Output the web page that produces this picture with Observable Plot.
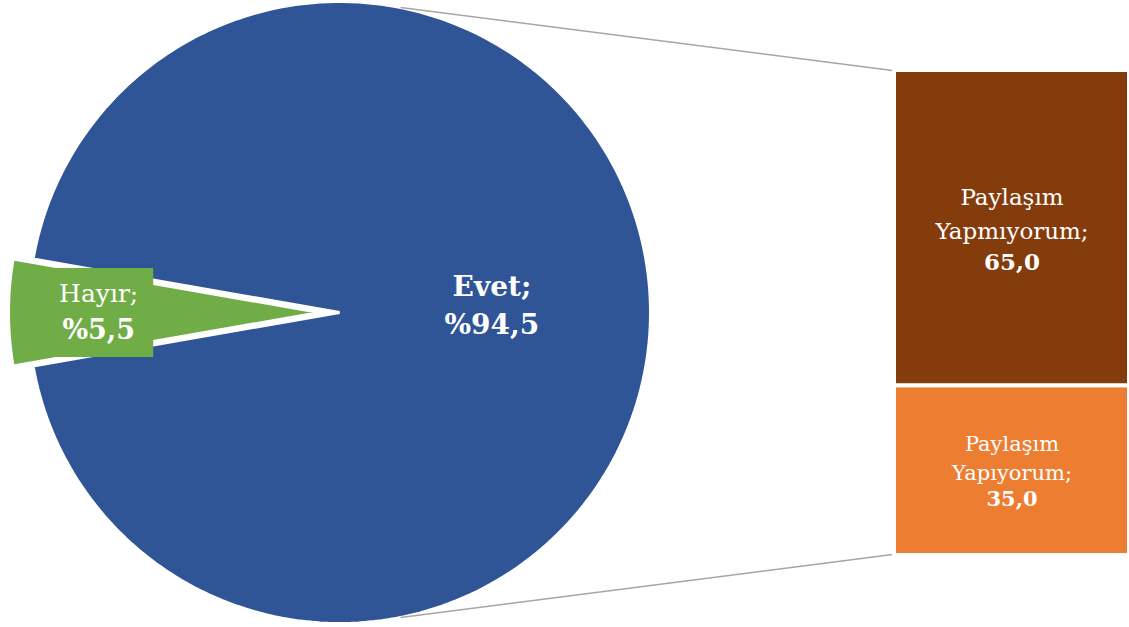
<!DOCTYPE html>
<html>
<head>
<meta charset="utf-8">
<script src="https://cdn.jsdelivr.net/npm/d3@7"></script>
<script src="https://cdn.jsdelivr.net/npm/@observablehq/plot@0.6"></script>
<style>
  html, body { margin: 0; padding: 0; background: #fff; }
  #wrap { position: relative; width: 1129px; height: 627px; overflow: hidden; }
  #wrap svg { position: absolute; left: 0; top: 0; }
</style>
</head>
<body>
<div id="wrap"></div>
<script>
// ---- data ----
const pieLabels = ["Evet", "Hayır"];
const pieValues = [94.5, 5.5];
const pieColors = ["#2F5597", "#70AD47"];
const barLabels = ["Paylaşım\nYapıyorum;", "Paylaşım\nYapmıyorum;"];
const barValues = [35.0, 65.0];
const barColors = ["#ED7D31", "#843C0C"];

// ---- layout ----
const W = 1129, H = 627;
const cx = 339, cy = 312, R = 311;
const explode = 20;
const barLeft = 896, barTop = 72, barBottom = 553;
const fmt = v => v.toFixed(1).replace(".", ",");
const font = "DejaVu Serif";

// pie angles (clockwise from 12 o'clock), small slice centred at 9 o'clock
const total = d3.sum(pieValues);
const g = 2 * Math.PI * pieValues[1] / total;
const arcs = d3.pie().sort(null)
  .startAngle(-Math.PI / 2 + g / 2)
  .endAngle(-Math.PI / 2 + g / 2 + 2 * Math.PI)(pieValues);

const px = (a, r, ox = 0) => cx + ox + r * Math.sin(a);
const py = (a, r, oy = 0) => cy + oy - r * Math.cos(a);

const sliceMarks = [];
const sliceInfo = arcs.map((a, i) => {
  const mid = (a.startAngle + a.endAngle) / 2;
  const off = i === 1 ? explode : 0;
  const ox = off * Math.sin(mid), oy = -off * Math.cos(mid);
  const pts = [{x: cx + ox, y: cy + oy}];
  const n = 240;
  for (let k = 0; k <= n; k++) {
    const t = a.startAngle + (a.endAngle - a.startAngle) * k / n;
    pts.push({x: px(t, R, ox), y: py(t, R, oy)});
  }
  sliceMarks.push(Plot.line(pts, {x: "x", y: "y", curve: "linear-closed",
    fill: pieColors[i], stroke: "white", strokeWidth: 3, strokeLinejoin: "miter"}));
  return {mid, ox, oy};
});

// label anchors
const evetPos = {x: px(sliceInfo[0].mid, 0.49 * R), y: py(sliceInfo[0].mid, 0.49 * R)};
const hayirPos = {x: px(sliceInfo[1].mid, 0.71 * R, sliceInfo[1].ox), y: py(sliceInfo[1].mid, 0.71 * R, sliceInfo[1].oy)};

// connectors: pie edge to bar corners
const cAng = Math.asin(61 / R);
const connectors = [
  {x1: cx + R * Math.sin(cAng), y1: cy - R * Math.cos(cAng), x2: barLeft - 4, y2: barTop - 2},
  {x1: cx + R * Math.sin(cAng), y1: cy + R * Math.cos(cAng), x2: barLeft - 4, y2: barBottom + 1}
];

const pie = Plot.plot({
  width: W, height: H,
  marginTop: 0, marginRight: 0, marginBottom: 0, marginLeft: 0,
  x: {domain: [0, W], range: [0, W], axis: null},
  y: {domain: [0, H], range: [0, H], axis: null},
  style: {background: "transparent", fontFamily: font},
  marks: [
    ...sliceMarks,
    Plot.link(connectors, {x1: "x1", y1: "y1", x2: "x2", y2: "y2", stroke: "#A6A6A6", strokeWidth: 1.6}),
    Plot.rect([hayirPos], {x1: d => d.x - 55, x2: d => d.x + 55, y1: d => d.y - 44, y2: d => d.y + 45, fill: pieColors[1]}),
    Plot.text([hayirPos], {x: "x", y: "y", text: () => pieLabels[1] + ";", dy: -19, fill: "white", fontSize: 25, fontFamily: font}),
    Plot.text([hayirPos], {x: "x", y: "y", text: () => "%" + fmt(pieValues[1]), dy: 18, fill: "white", fontSize: 27, fontWeight: "bold", fontFamily: font}),
    Plot.text([evetPos], {x: "x", y: "y", text: () => pieLabels[0] + ";", dy: -25, fill: "white", fontSize: 28, fontWeight: "bold", fontFamily: font}),
    Plot.text([evetPos], {x: "x", y: "y", text: () => "%" + fmt(pieValues[0]), dy: 13, fill: "white", fontSize: 28, fontWeight: "bold", fontFamily: font})
  ]
});

// bar segments (stacked from the bottom) with midpoints in data units
const cum = d3.cumsum(barValues);
const barData = barLabels.map((l, i) => ({group: "bar", label: l, value: barValues[i], color: barColors[i], i,
  mid: cum[i] - barValues[i] / 2}));
const barSizes = [{fs: 21, lh: 29}, {fs: 23, lh: 34}];

const bar = Plot.plot({
  width: W, height: H,
  marginLeft: barLeft - 2, marginRight: 0,
  marginTop: barTop - 2, marginBottom: H - barBottom - 2,
  x: {domain: ["bar"], padding: 0, axis: null},
  y: {domain: [0, d3.sum(barValues)], axis: null},
  style: {background: "transparent", fontFamily: font},
  marks: [
    Plot.barY(barData, Plot.stackY({x: "group", y: "value", fill: "color", stroke: "white", strokeWidth: 4})),
    ...barData.map((d, i) => Plot.text([d], {
      x: "group", y: "mid", text: "label",
      dy: -barSizes[i].lh / 2, lineHeight: barSizes[i].lh / barSizes[i].fs,
      fill: "white", fontSize: barSizes[i].fs, fontFamily: font})),
    ...barData.map((d, i) => Plot.text([d], {
      x: "group", y: "mid", text: e => fmt(e.value),
      dy: barSizes[i].lh, fill: "white", fontSize: barSizes[i].fs, fontWeight: "bold", fontFamily: font}))
  ]
});

const wrap = document.getElementById("wrap");
wrap.appendChild(pie);
wrap.appendChild(bar);
</script>
</body>
</html>
